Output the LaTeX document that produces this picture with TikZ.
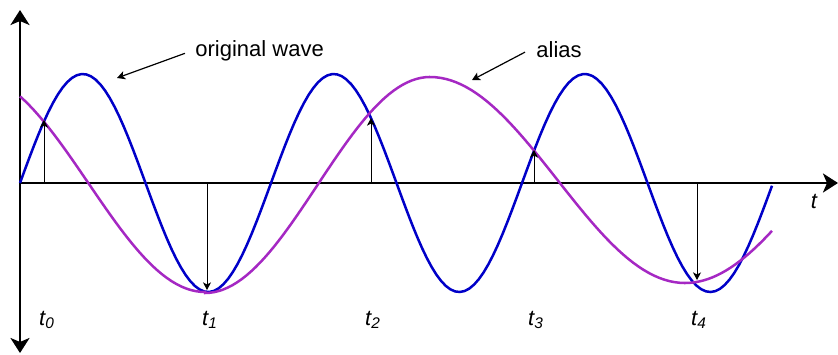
\documentclass[tikz,border=0pt]{standalone}
\usepackage{fontspec}
\setmainfont{Liberation Sans}
\usepackage{xcolor}
\usetikzlibrary{arrows.meta,positioning}

\definecolor{origblue}{RGB}{0,0,200}
\definecolor{aliaspurple}{RGB}{165,40,195}

\begin{document}
\begin{tikzpicture}[
    x=0.5pt, y=-0.5pt,
    axis/.style={line width=1.4pt, -{Stealth[length=7.5pt, width=9.5pt, inset=2pt]}},
    wave/.style={line width=1.25pt, origblue},
    aliaswave/.style={line width=1.25pt, aliaspurple},
    sample/.style={line width=0.5pt, -{Stealth[length=3.8pt, width=4pt, inset=1pt]}},
    pointer/.style={line width=0.6pt, -{Stealth[length=4pt, width=4.2pt, inset=1pt]}},
    lbl/.style={inner sep=0pt, font=\fontsize{11}{13}\selectfont},
    tlbl/.style={inner sep=0pt, anchor=base, font=\fontsize{11}{13}\selectfont\itshape}
]
\useasboundingbox (0,0) rectangle (838,354);

% Axes
\coordinate (origin) at (20,183);
\coordinate (ytop) at (20,10);
\coordinate (ybot) at (20,353);
\coordinate (xend) at (838,183);
\draw[axis] (origin) -- (ytop);
\draw[axis] (origin) -- (ybot);
\draw[axis] (origin) -- (xend);
\node[tlbl] (tlabel) at (814,208) {t};

% Original wave and its alias
\draw[wave] plot[domain=20:772, samples=160] (\x, {183-109*sin(1.43426*(\x-20))});
\draw[aliaswave] plot[domain=20:205, samples=40] (\x, {183-109*cos(0.77121*(\x+28.4))})
    -- plot[domain=205:430, samples=50] (\x, {185+108*cos(0.8*(\x-205))})
    -- plot[domain=430:685, samples=50] (\x, {180-103*cos(0.70588*(\x-430))})
    -- plot[domain=685:772, samples=20] (\x, {183+100*cos(0.70588*(\x-685))});

% Samples
\coordinate (s0) at (44,183);  \coordinate (p0) at (44,120);
\coordinate (s1) at (207,183); \coordinate (p1) at (207,290);
\coordinate (s2) at (371,183); \coordinate (p2) at (371,118);
\coordinate (s3) at (534,183); \coordinate (p3) at (534,150);
\coordinate (s4) at (697,183); \coordinate (p4) at (697,280);
\foreach \i in {0,...,4} {
    \draw[sample] (s\i) -- (p\i);
}

\node[tlbl] (t0) at (47,325) {t\textsubscript{0}};
\node[tlbl] (t1) at (210,325) {t\textsubscript{1}};
\node[tlbl] (t2) at (373,325) {t\textsubscript{2}};
\node[tlbl] (t3) at (536,325) {t\textsubscript{3}};
\node[tlbl] (t4) at (699,325) {t\textsubscript{4}};

% Labels
\node[lbl, anchor=base west] (lbl_orig) at (195,56) {original wave};
\node[lbl, anchor=base west] (lbl_alias) at (536,57) {alias};
\coordinate (tip_orig) at (117,78);
\coordinate (tip_alias) at (472,80);
\draw[pointer] ([xshift=-5pt,yshift=-1.5pt]lbl_orig.west) -- (tip_orig);
\draw[pointer] ([xshift=-5.5pt,yshift=-1.5pt]lbl_alias.west) -- (tip_alias);

\end{tikzpicture}
\end{document}
